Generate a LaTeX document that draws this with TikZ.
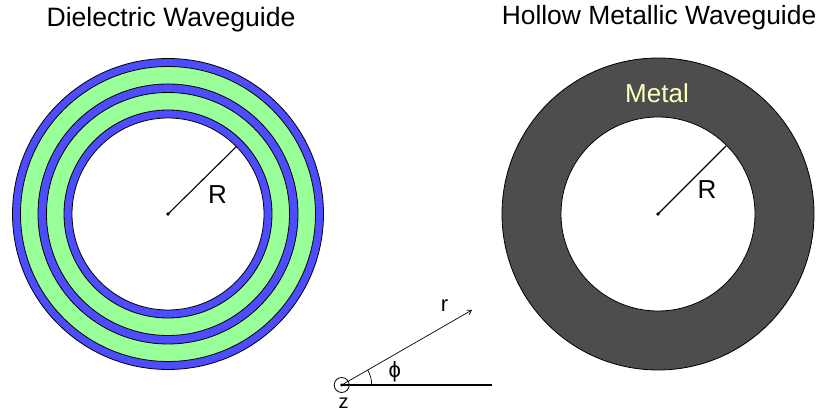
\documentclass[tikz,border=0pt]{standalone}
\usepackage{fontspec}
\setmainfont{Liberation Sans}
\usetikzlibrary{arrows.meta}
\definecolor{ringblue}{RGB}{77,77,255}
\definecolor{ringgreen}{RGB}{153,255,153}
\definecolor{metal}{RGB}{77,77,77}
\definecolor{metaltext}{RGB}{255,255,190}
\tikzset{
  ring/.style={draw=black,line width=0.8pt},
  lbl/.style={inner sep=0pt,anchor=base,font=\fontsize{#1}{#1}\selectfont},
  dotc/.style={circle,fill=black,inner sep=0pt,minimum size=3.6pt},
}
\begin{document}
\begin{tikzpicture}[x=1pt,y=-1pt]
\useasboundingbox[fill=white] (0,0) rectangle (817,411);
% left
\coordinate (lc) at (168,214);
\foreach \r/\c in {155.5/ringblue,147.5/ringgreen,130/ringblue,121.5/ringgreen,104/ringblue,96/white}
  \draw[ring,fill=\c] (lc) circle[radius=\r];
\node[dotc] (ld) at (lc) {};
\coordinate (le) at (237,146);
\draw[line width=1.1pt] (ld.center) -- (le);
\node[lbl=26] at (217.5,204) {R};
\node[lbl=26.6] at (171,27) {Dielectric Waveguide};
% right
\coordinate (rc) at (658,214);
\draw[ring,fill=metal] (rc) circle[radius=156];
\draw[ring,fill=white] (rc) circle[radius=97];
\node[dotc] (rd) at (rc) {};
\coordinate (re) at (726,146);
\draw[line width=1.1pt] (rd.center) -- (re);
\node[lbl=26] at (707,199) {R};
\node[lbl=26,text=metaltext] at (657,103) {Metal};
\node[lbl=26.4] at (659,25) {Hollow Metallic Waveguide};
% axes
\coordinate (o) at (341.7,385);
\coordinate (xe) at (491.5,385);
\coordinate (re2) at (472,310);
\draw[line width=0.8pt] (o) circle[radius=7.5];
\fill (o) circle[radius=1.6];
\draw[line width=1.1pt] (o) -- (xe);
\draw[line width=0.7pt,-{Straight Barb[length=4pt,width=5pt]}] (o) -- (re2);
\draw[line width=0.7pt] (371.7,385) arc[start angle=0,end angle=-30,radius=30];
\node[lbl=22] at (444.5,312) {r};
\node[lbl=22] at (394.8,378) {ϕ};
\node[lbl=20] at (343.5,408.5) {z};
\end{tikzpicture}
\end{document}
